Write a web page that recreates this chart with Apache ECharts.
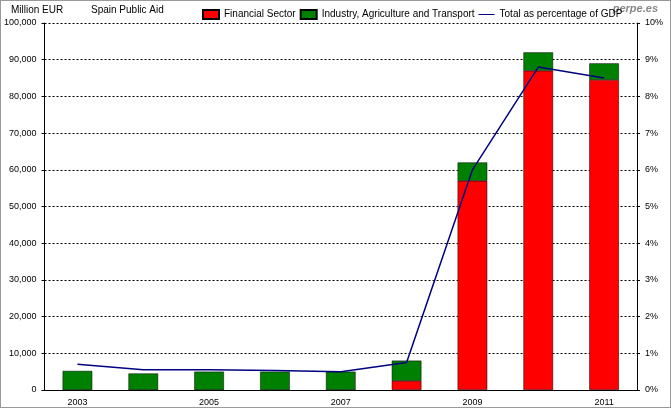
<!DOCTYPE html><html><head><meta charset="utf-8">
<script src="https://cdn.jsdelivr.net/npm/echarts@6/dist/echarts.min.js"></script>
<style>html,body{margin:0;padding:0;background:#fff}#c{width:671px;height:408px;box-sizing:border-box;border:1px solid #999}</style>
</head><body><div id="c"></div><script>
const years=['2003','2004','2005','2006','2007','2008','2009','2010','2011'];
const financial=[0,0,0,0,0,2500,57000,87000,84500];
const industry=[5200,4500,5000,5000,5000,5500,5000,5000,4500];
const gdpPct=[0.7,0.55,0.55,0.53,0.5,0.75,6.0,8.8,8.5];
const ch=echarts.init(document.getElementById('c'));
const f='Liberation Sans';
ch.setOption({
 animation:false,textStyle:{fontFamily:f},
 grid:{left:40,right:33,top:22,bottom:17},
 graphic:[
  {type:'text',left:10,top:4,style:{text:'Million EUR',font:'10px '+f,fill:'#000'}},
  {type:'text',left:90,top:4,style:{text:'Spain Public Aid',font:'10px '+f,fill:'#000'}},
  {type:'text',right:12,top:2,style:{text:'perpe.es',font:'italic bold 11px '+f,fill:'#888'}}
 ],
 legend:{left:196,top:3,itemGap:4,itemWidth:16,itemHeight:9,textStyle:{fontSize:10,color:'#000'},
  data:[{name:'Financial Sector',icon:'rect'},{name:'Industry, Agriculture and Transport',icon:'rect'},{name:'Total as percentage of GDP',icon:'path://M0,4L16,4L16,5L0,5Z'}]},
 xAxis:{type:'category',data:years,axisTick:{show:false},axisLine:{lineStyle:{color:'#000'}},
  axisLabel:{interval:1,fontSize:9,color:'#000',margin:8}},
 yAxis:[
  {type:'value',min:0,max:100000,interval:10000,axisLine:{show:true,lineStyle:{color:'#000'}},axisTick:{show:true,length:3},
   axisLabel:{fontSize:9,color:'#000',formatter:v=>v.toLocaleString('en-US')},
   splitLine:{lineStyle:{color:'#000',type:[2,2]}}},
  {type:'value',min:0,max:10,interval:1,position:'right',axisLine:{show:true,lineStyle:{color:'#000'}},axisTick:{show:true,length:3},
   axisLabel:{fontSize:9,color:'#000',formatter:'{value}%'},splitLine:{show:false}}
 ],
 series:[
  {name:'Financial Sector',type:'bar',stack:'a',data:financial,barWidth:'45%',itemStyle:{color:'#ff0000',borderColor:'#000',borderWidth:0.5}},
  {name:'Industry, Agriculture and Transport',type:'bar',stack:'a',data:industry,itemStyle:{color:'#008000',borderColor:'#000',borderWidth:0.5}},
  {name:'Total as percentage of GDP',type:'line',yAxisIndex:1,data:gdpPct,symbol:'none',lineStyle:{color:'#000080',width:1.5},itemStyle:{color:'#000080'}}
 ]
});
</script></body></html>
